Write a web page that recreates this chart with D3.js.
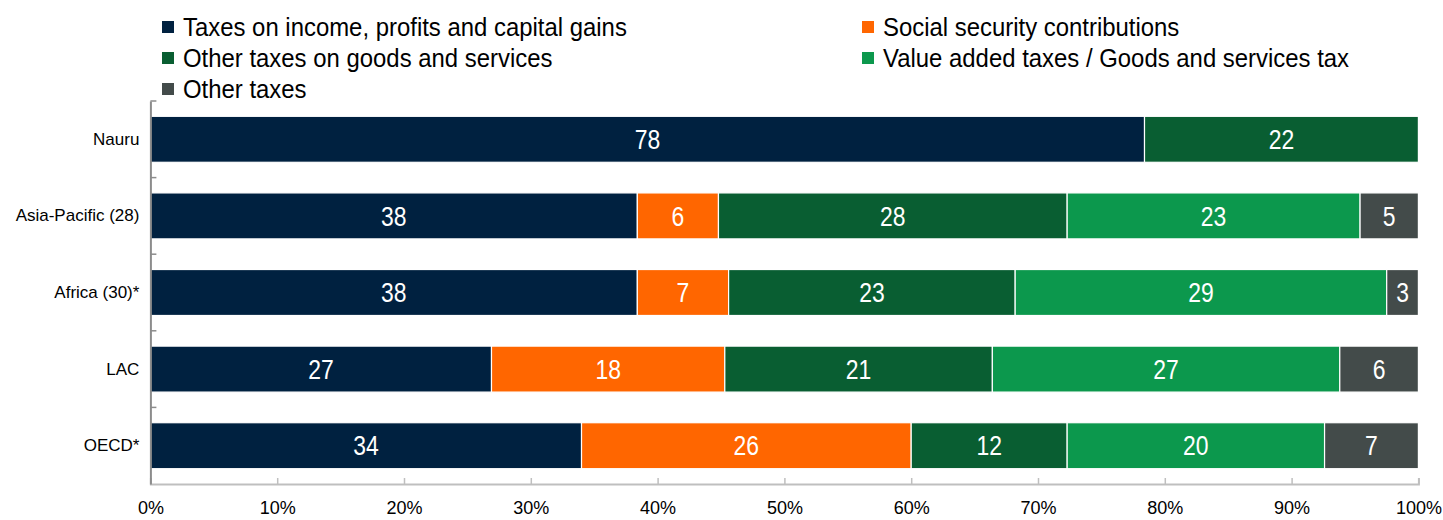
<!DOCTYPE html>
<html>
<head>
<meta charset="utf-8">
<script src="https://cdn.jsdelivr.net/npm/d3@7"></script>
<style>
  body { margin: 0; background: #fff; }
  text { font-family: "Liberation Sans Narrow", "Arial Narrow", "Liberation Sans", sans-serif; }
</style>
</head>
<body>
<script>
'use strict';

// data (shares of total tax revenue, %)
const categories = ["Nauru", "Asia-Pacific (28)", "Africa (30)*", "LAC", "OECD*"];
const seriesNames = [
    "Taxes on income, profits and capital gains",
    "Social security contributions",
    "Other taxes on goods and services",
    "Value added taxes / Goods and services tax",
    "Other taxes"
];
const incomeTax = [78.4, 38.4, 38.4, 26.9, 34.0];
const socialSecurity = [0, 6.4, 7.2, 18.4, 26.0];
const otherGoods = [21.6, 27.5, 22.6, 21.1, 12.3];
const vat = [0, 23.1, 29.3, 27.4, 20.3];
const otherTaxes = [0, 4.6, 2.5, 6.2, 7.4];
const xTicks = [0, 10, 20, 30, 40, 50, 60, 70, 80, 90, 100];

const colors = ["#002140", "#FF6600", "#095E32", "#0C984D", "#434B4A"];

const width = 1443, height = 520;
const m = { left: 150.4, right: 1418.4, top: 101, bottom: 484 };

const svg = d3.select("body").append("svg")
    .attr("width", width)
    .attr("height", height);

const allSeries = [incomeTax, socialSecurity, otherGoods, vat, otherTaxes];
const rows = categories.map((c, i) => {
    let row = { cat: c };
    seriesNames.forEach((s, j) => { row[s] = allSeries[j][i]; });
    return row;
});
const stacked = d3.stack().keys(seriesNames)(rows);

const x = d3.scaleLinear().domain([0, 100]).range([m.left, m.right]);
const y = d3.scaleBand().domain(categories).range([m.top, m.bottom])
    .paddingInner(0.4).paddingOuter(0.2);

// bars
const layers = svg.append("g").selectAll("g")
    .data(stacked)
    .enter().append("g")
    .attr("fill", (d, i) => colors[i]);

layers.selectAll("rect")
    .data(d => d.filter(p => p[1] - p[0] > 0))
    .enter().append("rect")
    .attr("x", d => x(d[0]))
    .attr("y", d => y(d.data.cat))
    .attr("width", d => x(d[1]) - x(d[0]))
    .attr("height", y.bandwidth())
    .attr("stroke", "#fff")
    .attr("stroke-width", 1.2);

// value labels, slightly condensed like the original narrow face
layers.selectAll("text")
    .data(d => d.filter(p => p[1] - p[0] > 0))
    .enter().append("text")
    .attr("transform", d => "translate(" + ((x(d[0]) + x(d[1])) / 2) + ","
        + (y(d.data.cat) + y.bandwidth() / 2) + ") scale(0.85,1)")
    .attr("dy", "0.36em")
    .attr("text-anchor", "middle")
    .attr("fill", "#fff")
    .style("font-size", "27px")
    .text(d => Math.round(d[1] - d[0]));

// x axis
const xAxis = svg.append("g")
    .attr("transform", "translate(0," + m.bottom + ")")
    .call(d3.axisBottom(x).tickValues(xTicks).tickSize(-6).tickPadding(17)
        .tickFormat(d => d + "%"));
xAxis.select(".domain").attr("stroke", "#BFBFBF").attr("stroke-width", 2);
xAxis.selectAll(".tick line").attr("stroke", "#BFBFBF").attr("stroke-width", 1.5);
xAxis.selectAll(".tick text").attr("fill", "#000").style("font-size", "18px")
    .style("font-family", "'Liberation Sans Narrow', 'Arial Narrow', sans-serif");

// y axis: category labels plus separator ticks
const yAxis = svg.append("g")
    .attr("transform", "translate(" + m.left + ",0)")
    .call(d3.axisLeft(y).tickSize(0).tickPadding(11));
yAxis.select(".domain").attr("stroke", "#8C8C8C").attr("stroke-width", 2);
yAxis.selectAll(".tick text").attr("fill", "#000").style("font-size", "17px")
    .style("font-family", "'Liberation Sans Narrow', 'Arial Narrow', sans-serif");

const sepTicks = d3.range(categories.length).map(i => y.range()[0] + i * y.step());
yAxis.selectAll(".sep")
    .data(sepTicks)
    .enter().append("line")
    .attr("x1", 0).attr("x2", 6)
    .attr("y1", d => d).attr("y2", d => d)
    .attr("stroke", "#8C8C8C")
    .attr("stroke-width", 1.5);

// legend
const legendPos = [
    [162, 27], [862, 27],
    [162, 58], [862, 58],
    [162, 89]
];
const legendOrder = [0, 1, 2, 3, 4];
const legend = svg.append("g").selectAll("g")
    .data(legendOrder)
    .enter().append("g")
    .attr("transform", (d, i) => "translate(" + legendPos[i][0] + "," + legendPos[i][1] + ")");

legend.append("rect")
    .attr("x", 0).attr("y", -6)
    .attr("width", 12).attr("height", 12)
    .attr("fill", d => colors[d]);

legend.append("text")
    .attr("transform", "translate(21,0) scale(0.92,1)")
    .attr("dy", "0.36em")
    .style("font-size", "26px")
    .attr("fill", "#000")
    .text(d => seriesNames[d]);
</script>
</body>
</html>
